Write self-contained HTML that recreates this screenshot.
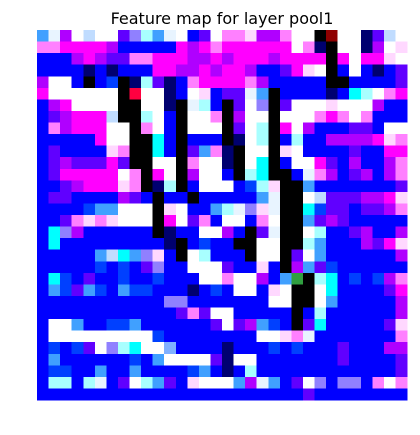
<!DOCTYPE html>
<html><head><meta charset="utf-8"><style>
html,body{margin:0;padding:0;background:#fff;width:420px;height:435px;overflow:hidden}
svg{display:block}
</style></head><body>
<svg id="chart" width="420" height="435" viewBox="0 0 420 435" xmlns="http://www.w3.org/2000/svg">
<text x="222" y="24" text-anchor="middle" font-family="DejaVu Sans, Liberation Sans, sans-serif" font-size="16" fill="#000">Feature map for layer pool1</text>
<g id="cells" shape-rendering="crispEdges"></g>
</svg>
<script>
const palette = {B:'#0000ff',W:'#ffffff',K:'#000000',M:'#ff00ff',I:'#ff80ff',p:'#ffd8ff',P:'#b000ff',V:'#6000ff',v:'#9080ff',N:'#000070',C:'#00ffff',L:'#a8ffff',l:'#e8f4ff',b:'#c0dcff',S:'#40a0ff',D:'#0040ff',R:'#ff0040',O:'#900000',G:'#30a040',u:'#80b0ff'};
const rowsLeft = [
"SlPWbWWVvLSlWBVW","IIMMMMPBBBBBMPMI","BBBPMPVVIIMMMPPM","BBBBNBNBBBMMPPMP",
"PWWBKBDKNLVNBIMM","MWWWWWWKRWWNBWpB","BPMWWWWKKWWNKlLB","BVPMMMbKKLWBKWWI",
"BIPMMMWWKIWBKWWW","BBBBBMWWKKCBKBBB","BVBBBBpIKKCBKVSI","BVPVVVMVKKWWKIWW",
"BVMMMMMWIKMWKPWW","BBVPMMMpIKNLKBWW","BVVBBBBPVBKBBKBB","BBBBDSSWWWKpWBBS",
"BBVIpIpWWWKMWVIB","BCvPBBBBBBKNBBWW","BCBBBBBBBBBNKBDB","BBBBBSbCSvpBKWLB",
"BBBBBDBDBVvBBWWW","BCDBVBBDBBDBBBWW","BSDVSDBSDDBBBNBD","BBBBBBBBBBBvvBBB",
"BBBBBBBBBBBBVIVW","BWWSBBDDSBBBBBBV","BWWWWWWWWWDBBBBB","BDBDVWvLCWWuBBBB",
"BSBBBBBBDBSWWWWV","BDDBBSBBSBBBBDSB","BLLBLlBVWLSVBpWW","BBBBBBBBBBBBBBBB"];
const rowsRight = [
"IIpPPIWWKOWWNVbW","MMMMMMWINKWWNPWp","PMMMPMMMMKMWMMpW","MMPBBVMpWKBWBNBV",
"MMIPBBBBBKKBBBBV","VVlSKBBBBNBCLWIM","KVWvKVWWWpWWWPBB","KPWWKWWWIMIWIBBB",
"KVWLKMWPBBBVVBWW","KNWLKBLBBPPPPMpI","NKWWKpWBBBBVBBMM","NKWCKBWWMVBPBBPI",
"BKLCKKBlIPBVPBPI","WBDLpKKSBBBBBBBV","BBBSlKKWbVVVPPMp","LlvplKKCDVVBVVPI",
"WWBIWKKSVPVBBBBB","PBKVlKKWLBBVPBBP","BKKWWKKLSBBBPVMp","BBKWWKVWSBBBBBBP",
"VBBpBKPSVDBBBBBB","IWWPBSGKLCBDBDPI","BWWBpWKKWCBBBBVM","BBBBWWKKWSBBBBBP",
"WBBBBBKBLBBBBBBP","WVPSDBKVCBBBBBVp","BBBWWpIlBBBBBBBI","NBBBDBDBBBVBBBPP",
"NWWBBBBBBBVBBBBV","NBLBBBBBBBBBBBBV","WSPlSBVWvBvvBIWI","BBBBBBBVBBBBBBBB"];
const x0=37,y0=30,W=370,H=370,n=32;
const cw=W/n,ch=H/n;
const xs=i=>x0+i*cw, ys=j=>y0+j*ch;
const g=document.getElementById('cells');
const NS='http://www.w3.org/2000/svg';
for(let r=0;r<n;r++){
  const row=rowsLeft[r]+rowsRight[r];
  for(let c=0;c<n;c++){
    const el=document.createElementNS(NS,'rect');
    el.setAttribute('x',xs(c));
    el.setAttribute('y',ys(r));
    el.setAttribute('width',cw+0.6);
    el.setAttribute('height',ch+0.6);
    el.setAttribute('fill',palette[row[c]]||'#0000ff');
    
    
    g.appendChild(el);
  }
}
</script>
</body></html>
